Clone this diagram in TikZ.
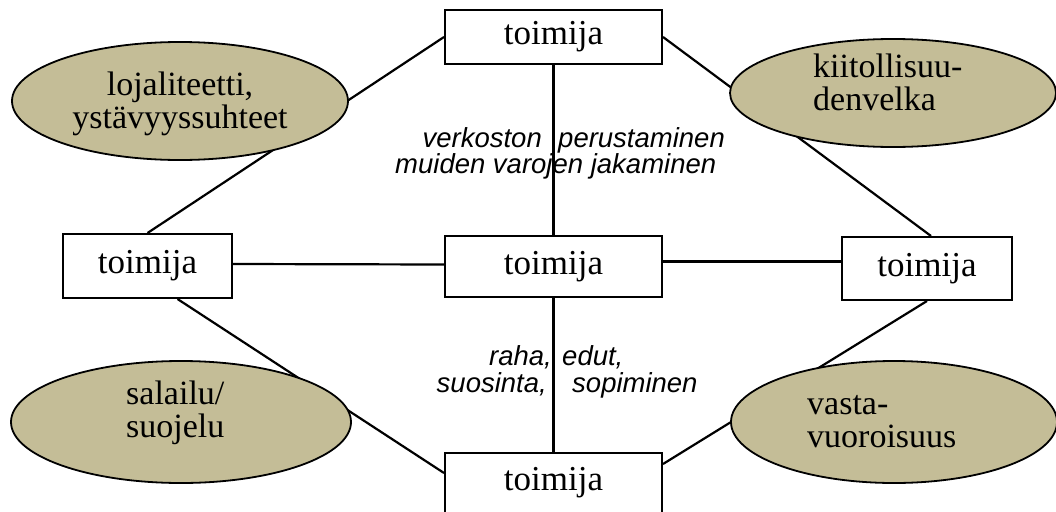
\documentclass[tikz,border=0pt]{standalone}
\usepackage{fontspec}
\setmainfont{Liberation Serif}
\newfontfamily\labelfont{Liberation Sans}
\usetikzlibrary{shapes.geometric}
\definecolor{tanfill}{HTML}{C4BD97}
\tikzset{
  actor/.style={draw, line width=2pt, fill=white, inner sep=0pt,
    font=\fontsize{35}{36}\selectfont},
  bond/.style={line width=2.2pt},
  relation/.style={ellipse, draw, line width=1.8pt, fill=tanfill, inner sep=0pt},
  relationtext/.style={align=left, inner sep=0pt, font=\fontsize{34}{33}\selectfont},
  flow/.style={inner sep=0pt, font=\labelfont\itshape\fontsize{27.5}{26}\selectfont}
}
\begin{document}
\begin{tikzpicture}[x=1pt, y=-1pt]
\useasboundingbox (0,0) rectangle (1056,511);

% actors
\node[actor, minimum width=217pt, minimum height=54pt] (top) at (553.5,37) {toimija};
\node[actor, minimum width=169pt, minimum height=64pt] (left) at (147.5,266) {toimija};
\node[actor, minimum width=217pt, minimum height=61pt] (mid) at (553.5,266.5) {toimija};
\node[actor, minimum width=170pt, minimum height=63pt] (right) at (927,268.5) {toimija};
\node[actor, minimum width=217pt, minimum height=60pt] (bot) at (553.5,483) {toimija};

% ties between the actors
\draw[bond] (top.west) -- (left.north);
\draw[bond] (top.east) -- ([xshift=4pt]right.north);
\draw[bond] ([xshift=30pt]left.south) -- ([yshift=10pt]bot.west);
\draw[bond] (right.south) -- ([yshift=19pt]bot.east);
\draw[bond] ([yshift=2pt]left.east) -- ([yshift=2pt]mid.west);
\draw[bond] ([yshift=5pt]mid.east) -- ([yshift=7pt]right.west);
\draw[bond] (top.south) -- (mid.north);
\draw[bond] (mid.south) -- (bot.north);

% kinds of relationship
\node[relation, minimum width=336pt, minimum height=118pt] (e1) at (180,101) {};
\node[relation, minimum width=326pt, minimum height=108pt] (e2) at (893,93) {};
\node[relation, minimum width=340pt, minimum height=122pt] (e3) at (181,422) {};
\node[relation, minimum width=326pt, minimum height=122pt] (e4) at (894,422) {};

\node[relationtext, align=center, anchor=base] (t1) at (180,128) {lojaliteetti,\\ystävyyssuhteet};
\node[relationtext, anchor=base west] (t2) at (813,110) {kiitollisuu-\\denvelka};
\node[relationtext, anchor=base west] (t3) at (126,437) {salailu/\\suojelu};
\node[relationtext, anchor=base west] (t4) at (807,447) {vasta-\\vuoroisuus};

% what flows between the actors
\node[flow, anchor=base east] (f1) at (542,147) {verkoston};
\node[flow, anchor=base west] (f2) at (558,147) {perustaminen};
\node[flow, anchor=base west] (f3) at (395,173) {muiden varojen jakaminen};
\node[flow, anchor=base east] (f4) at (552,365) {raha,};
\node[flow, anchor=base west] (f5) at (562,365) {edut,};
\node[flow, anchor=base east] (f6) at (547,392) {suosinta,};
\node[flow, anchor=base west] (f7) at (572,392) {sopiminen};
\end{tikzpicture}
\end{document}
